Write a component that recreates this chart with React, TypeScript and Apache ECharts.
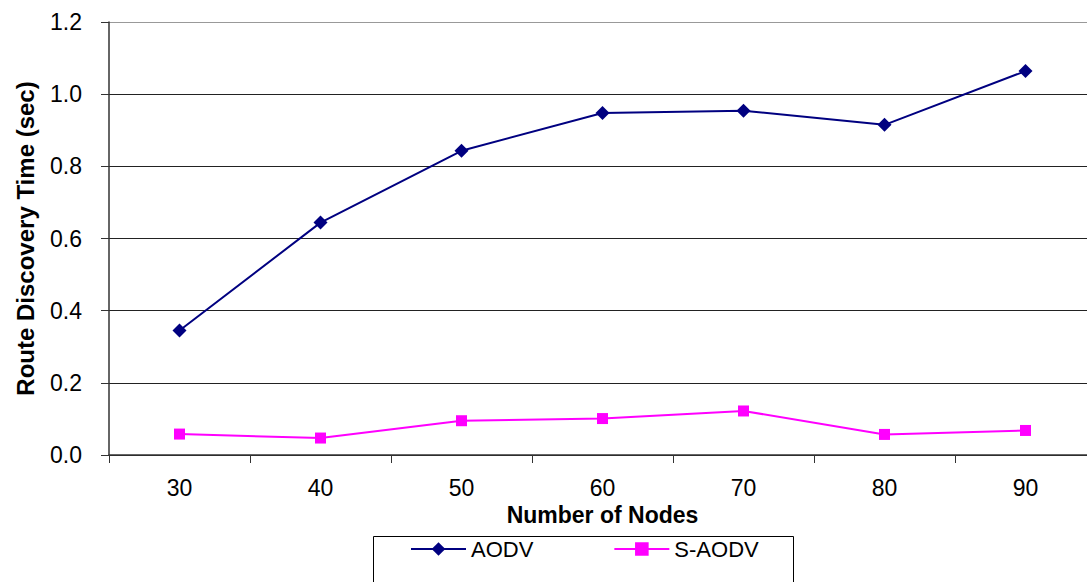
import React, { useEffect, useRef } from "react";
import * as echarts from "echarts";

const categories = ["30", "40", "50", "60", "70", "80", "90"];
const aodv = [0.345, 0.644, 0.843, 0.948, 0.954, 0.915, 1.064];
const saodv = [0.058, 0.047, 0.095, 0.101, 0.122, 0.057, 0.068];
const seriesNames = ["AODV", "S-AODV"];

const FONT = "'Liberation Sans', Arial, sans-serif";

export default function App() {
  const ref = useRef<HTMLDivElement>(null);
  useEffect(() => {
    if (!ref.current) return;
    const chart = echarts.init(ref.current, undefined, { renderer: "svg" });
    chart.setOption({
      animation: false,
      backgroundColor: "#ffffff",
      textStyle: { fontFamily: FONT },
      grid: { left: 109, top: 22, width: 987, height: 433, outerBoundsMode: "none", containLabel: false },
      xAxis: {
        type: "category",
        data: categories,
        boundaryGap: true,
        name: "Number of Nodes",
        nameLocation: "middle",
        nameGap: 45,
        nameTextStyle: { fontSize: 23, fontWeight: "bold", color: "#000", fontFamily: FONT },
        axisLine: { lineStyle: { color: "#333", width: 1.5 } },
        axisTick: { show: true, length: 8, inside: false, alignWithLabel: false, lineStyle: { color: "#333" } },
        axisLabel: { fontSize: 23, color: "#000", margin: 21, fontFamily: FONT },
        splitLine: { show: false },
      },
      yAxis: {
        type: "value",
        min: 0,
        max: 1.2,
        interval: 0.2,
        name: "Route Discovery Time (sec)",
        nameLocation: "middle",
        nameGap: 72,
        nameTextStyle: { fontSize: 24, fontWeight: "bold", color: "#000", fontFamily: FONT },
        axisLine: { show: true, lineStyle: { color: "#333", width: 1.5 } },
        axisTick: { show: true, length: 8, lineStyle: { color: "#333" } },
        axisLabel: {
          fontSize: 23,
          color: "#000",
          margin: 27,
          fontFamily: FONT,
          formatter: (v: number) => v.toFixed(1),
        },
        splitLine: {
          show: true,
          lineStyle: {
            color: ["#222", "#222", "#222", "#222", "#222", "#222", "#999"],
            width: 1,
          },
        },
      },
      legend: {
        left: 410,
        top: 538,
        itemWidth: 55,
        itemHeight: 17,
        itemGap: 80,
        padding: 0,
        textStyle: { fontSize: 22, color: "#000", fontFamily: FONT },
        data: seriesNames,
      },
      graphic: [
        {
          type: "rect",
          left: 371,
          top: 534,
          shape: { width: 420, height: 60 },
          style: { fill: "none", stroke: "#000", lineWidth: 1 },
          silent: true,
        },
      ],
      series: [
        {
          name: seriesNames[0],
          type: "line",
          data: aodv,
          color: "#000080",
          symbol: "diamond",
          symbolSize: 14,
          lineStyle: { color: "#000080", width: 2 },
          itemStyle: { color: "#000080" },
        },
        {
          name: seriesNames[1],
          type: "line",
          data: saodv,
          color: "#ff00ff",
          symbol: "rect",
          symbolSize: 11,
          lineStyle: { color: "#ff00ff", width: 2 },
          itemStyle: { color: "#ff00ff" },
        },
      ],
    });
    return () => chart.dispose();
  }, []);
  return <div ref={ref} style={{ width: 1087, height: 582, position: "absolute", left: 0, top: 0 }} />;
}
